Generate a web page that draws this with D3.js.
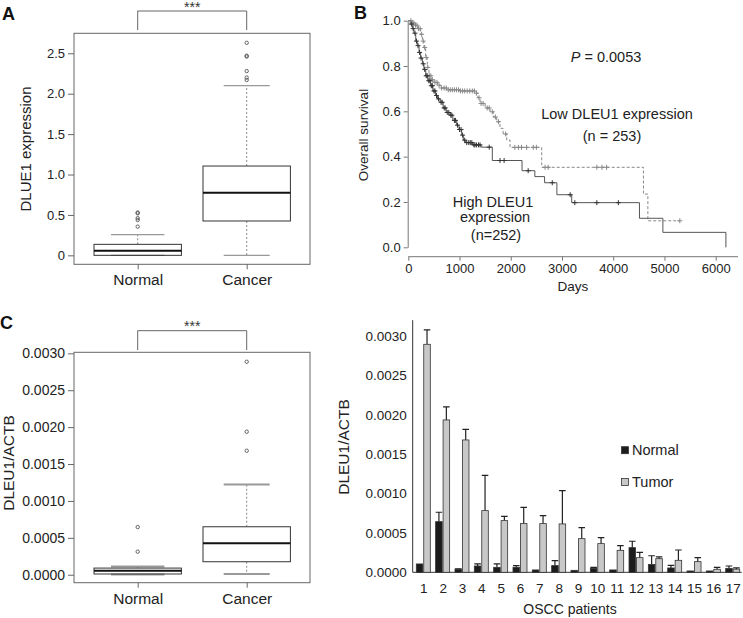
<!DOCTYPE html>
<html><head><meta charset="utf-8">
<script src="https://cdn.jsdelivr.net/npm/d3@7"></script>
<style>body{margin:0;background:#fff}svg{display:block;font-family:"Liberation Sans",Arial,sans-serif}</style>
</head><body><svg id="fig" width="743" height="618"></svg>
<script>
// ---------- Panel A data ----------
const boxCategories = ["Normal", "Cancer"];
const aLowerWhisker = [0, 0];
const aQ1 = [0, 0.425];
const aMedian = [0.057, 0.775];
const aQ3 = [0.136, 1.105];
const aUpperWhisker = [0.255, 2.10];
const aOutliers = [[0.355, 0.437, 0.46, 0.52, 0.53], [2.17, 2.2, 2.28, 2.46, 2.47, 2.63]];
const aTicks = [0, 0.5, 1.0, 1.5, 2.0, 2.5];
const aTickLabels = ["0", "0.5", "1.0", "1.5", "2.0", "2.5"];
// ---------- Panel C data ----------
const cLowerWhisker = [0.000002, 0.00001];
const cQ1 = [0.00001, 0.000176];
const cMedian = [0.000054, 0.000425];
const cQ3 = [0.00009, 0.00065];
const cUpperWhisker = [0.00011, 0.001224];
const cOutliers = [[0.000312, 0.000646], [0.00168, 0.001938, 0.002886]];
const cTicks = [0, 0.0005, 0.001, 0.0015, 0.002, 0.0025, 0.003];
// ---------- Panel B data (Kaplan-Meier) ----------
const kmHighTimes = [0, 40, 80, 110, 145, 175, 210, 240, 275, 305, 340, 380, 436, 480, 534, 570, 620, 680, 740, 814, 870, 944, 990, 1042, 1074, 1120, 1250, 1420, 1640, 2220, 2470, 2660, 2900, 3190, 4512, 4969, 6199];
const kmHighSurv  = [1.0, 0.985, 0.965, 0.945, 0.91, 0.89, 0.86, 0.835, 0.81, 0.785, 0.757, 0.735, 0.713, 0.69, 0.67, 0.655, 0.64, 0.615, 0.595, 0.583, 0.56, 0.539, 0.52, 0.495, 0.473, 0.462, 0.452, 0.442, 0.383, 0.338, 0.312, 0.285, 0.232, 0.197, 0.128, 0.066, 0];
const kmHighCensor = [60, 95, 130, 160, 190, 220, 250, 290, 320, 350, 370, 400, 420, 450, 470, 500, 520, 550, 590, 640, 660, 700, 720, 760, 790, 830, 850, 900, 920, 960, 1000, 1030, 1060, 1100, 1140, 1180, 1210, 1240, 1280, 1300, 1330, 1370, 1400, 1580, 1790, 1870, 2340, 2810, 3160, 3250, 3680, 4100];
const kmLowTimes = [0, 60, 120, 180, 241, 275, 306, 339, 371, 404, 450, 501, 570, 632, 750, 1000, 1300, 1360, 1400, 1500, 1595, 1660, 1725, 1790, 1850, 1921, 1986, 2604, 4590, 4676];
const kmLowSurv  = [1.0, 0.99, 0.98, 0.965, 0.94, 0.91, 0.882, 0.838, 0.794, 0.757, 0.74, 0.728, 0.715, 0.703, 0.695, 0.69, 0.68, 0.66, 0.635, 0.615, 0.598, 0.575, 0.554, 0.525, 0.5, 0.473, 0.441, 0.353, 0.235, 0.117];
const kmLowEnd = 5300;
const kmLowCensor = [50, 80, 110, 140, 170, 200, 230, 260, 290, 320, 350, 380, 410, 440, 470, 520, 560, 600, 650, 700, 740, 780, 820, 860, 900, 940, 980, 1020, 1060, 1100, 1150, 1200, 1250, 1290, 1330, 1380, 1420, 1460, 1540, 1580, 1640, 1700, 1760, 1900, 2080, 2150, 2210, 2310, 2440, 2500, 2670, 2730, 3680, 3780, 3870, 5300];
const kmXTicks = [0, 1000, 2000, 3000, 4000, 5000, 6000];
const kmYTicks = [0, 0.2, 0.4, 0.6, 0.8, 1.0];
// ---------- Panel D data ----------
const patients = ["1","2","3","4","5","6","7","8","9","10","11","12","13","14","15","16","17"];
const barSeries = ["Normal", "Tumor"];
const normalMean = [0.000106, 0.000643, 0.00004, 0.00008, 0.000063, 0.000063, 0.00003, 0.000085, 0.000025, 0.00005, 0.00003, 0.000313, 0.0001, 0.000055, 0.000017, 0.000017, 0.00005];
const normalErr  = [0, 0.000119, 0.000005, 0.000026, 0.000043, 0.000022, 0, 0.000063, 0, 0.000013, 0, 0.000081, 0.00011, 0.000034, 0, 0, 0.00003];
const tumorMean  = [0.002894, 0.001934, 0.00168, 0.000783, 0.000656, 0.000618, 0.000618, 0.000614, 0.000427, 0.000364, 0.000279, 0.000186, 0.000173, 0.000152, 0.000135, 0.000038, 0.00004];
const tumorErr   = [0.000182, 0.000166, 0.000135, 0.000447, 0.000054, 0.000207, 0.000101, 0.000423, 0.00014, 0.000076, 0.000059, 0.000068, 0.000022, 0.000131, 0.000051, 0.000025, 0.000015];
const dTicks = [0, 0.0005, 0.001, 0.0015, 0.002, 0.0025, 0.003];

const svg = d3.select("#fig");
const FRAME = "#666", GREY = "#8a8a8a";

// ---------- Box plot helper ----------
function boxPanel(g, cfg) {
  const x = d3.scalePoint().domain(boxCategories).range([137.7, 246.7]);
  const y = d3.scaleLinear().domain(cfg.domain).range([cfg.bottom, cfg.top]);
  g.append("rect").attr("x", 74).attr("y", cfg.top).attr("width", 236).attr("height", cfg.bottom - cfg.top)
    .attr("fill", "none").attr("stroke", FRAME).attr("stroke-width", 1);
  const yAx = g.append("g").attr("transform", "translate(74,0)")
    .call(d3.axisLeft(y).tickValues(cfg.ticks).tickFormat((d, i) => cfg.labels[i]).tickSize(6).tickPadding(3).tickSizeOuter(0));
  yAx.select(".domain").remove();
  yAx.selectAll("line").attr("stroke", FRAME);
  yAx.selectAll("text").attr("font-size", cfg.tickFont).attr("fill", "#222").style("font-family", "Liberation Sans, Arial");
  const xAx = g.append("g").attr("transform", `translate(0,${cfg.bottom})`)
    .call(d3.axisBottom(x).tickSize(5).tickPadding(5));
  xAx.select(".domain").remove();
  xAx.selectAll("line").attr("stroke", FRAME);
  xAx.selectAll("text").attr("font-size", 15.5).attr("fill", "#222").style("font-family", "Liberation Sans, Arial");
  const hw = 43.7, cw = cfg.capHalf;
  boxCategories.forEach((c, i) => {
    const cx = x(c);
    // whiskers
    g.append("line").attr("x1", cx).attr("x2", cx).attr("y1", y(cfg.q3[i])).attr("y2", y(cfg.uw[i]))
      .attr("stroke", GREY).attr("stroke-dasharray", "2,2");
    g.append("line").attr("x1", cx).attr("x2", cx).attr("y1", y(cfg.q1[i])).attr("y2", y(cfg.lw[i]))
      .attr("stroke", GREY).attr("stroke-dasharray", "2,2");
    [cfg.uw[i], cfg.lw[i]].forEach(v => g.append("line").attr("x1", cx - cw[i]).attr("x2", cx + cw[i])
      .attr("y1", y(v)).attr("y2", y(v)).attr("stroke", "#999").attr("stroke-width", cfg.capWidth));
    g.append("rect").attr("x", cx - hw).attr("width", 2 * hw).attr("y", y(cfg.q3[i]))
      .attr("height", y(cfg.q1[i]) - y(cfg.q3[i])).attr("fill", "none").attr("stroke", "#333").attr("stroke-width", 1);
    g.append("line").attr("x1", cx - hw).attr("x2", cx + hw).attr("y1", y(cfg.med[i])).attr("y2", y(cfg.med[i]))
      .attr("stroke", "#111").attr("stroke-width", 2);
    cfg.out[i].forEach(v => g.append("circle").attr("cx", cx).attr("cy", y(v)).attr("r", 1.7)
      .attr("fill", "none").attr("stroke", "#555").attr("stroke-width", 0.9));
  });
  // significance bracket
  g.append("path").attr("d", `M${x("Normal")},${cfg.brBottom}V${cfg.brTop}H${x("Cancer")}V${cfg.brBottom}`)
    .attr("fill", "none").attr("stroke", FRAME);
  g.append("text").attr("x", (x("Normal") + x("Cancer")) / 2).attr("y", cfg.brTop + 0.5).attr("text-anchor", "middle")
    .attr("font-size", 14).attr("fill", "#333").text("***");
  g.append("text").attr("transform", `translate(${cfg.titleX},${cfg.titleY}) rotate(-90)`).attr("text-anchor", "middle")
    .attr("font-size", cfg.titleFont).attr("fill", "#222").text(cfg.title);
  g.append("text").attr("x", cfg.labelX).attr("y", cfg.labelY).attr("font-size", 18).attr("font-weight", "bold")
    .attr("fill", "#111").text(cfg.label);
}

boxPanel(svg.append("g"), {
  domain: [-0.111, 2.7475], top: 33.3, bottom: 264.3, ticks: aTicks, labels: aTickLabels, tickFont: 13,
  lw: aLowerWhisker, q1: aQ1, med: aMedian, q3: aQ3, uw: aUpperWhisker, out: aOutliers,
  capHalf: [26.7, 23], capWidth: 1.2, brTop: 11, brBottom: 30,
  title: "DLUE1 expression", titleX: 31, titleY: 149, titleFont: 15, label: "A", labelX: 2, labelY: 20
});
boxPanel(svg.append("g"), {
  domain: [-0.000108, 0.003014], top: 352.3, bottom: 582.7, ticks: cTicks, labels: cTicks.map(d => d.toFixed(4)), tickFont: 14,
  lw: cLowerWhisker, q1: cQ1, med: cMedian, q3: cQ3, uw: cUpperWhisker, out: cOutliers,
  capHalf: [26.7, 23], capWidth: 2, brTop: 330.7, brBottom: 350,
  title: "DLEU1/ACTB", titleX: 14, titleY: 463, titleFont: 15.5, label: "C", labelX: 0, labelY: 329
});

// ---------- Panel B ----------
{
  const g = svg.append("g");
  const x = d3.scaleLinear().domain([0, 6000]).range([408.3, 715.7]);
  const y = d3.scaleLinear().domain([0, 1]).range([247.3, 20.7]);
  // axes
  const yAx = g.append("g").attr("transform", "translate(407.7,0)")
    .call(d3.axisLeft(y).tickValues(kmYTicks).tickFormat(d3.format(".1f")).tickSize(4).tickPadding(3).tickSizeOuter(0));
  yAx.select(".domain").attr("stroke", "#777");
  yAx.selectAll("line").attr("stroke", "#777");
  yAx.selectAll("text").attr("font-size", 13).attr("fill", "#222");
  const xAx = g.append("g").attr("transform", "translate(0,256.7)")
    .call(d3.axisBottom(x).tickValues(kmXTicks).tickFormat(d3.format("d")).tickSize(4).tickPadding(3).tickSizeOuter(0));
  xAx.select(".domain").attr("d", `M${x(0)},0H738`).attr("stroke", "#777");
  xAx.selectAll("line").attr("stroke", "#777");
  xAx.selectAll("text").attr("font-size", 13).attr("fill", "#222");
  g.append("text").attr("x", 573).attr("y", 291).attr("text-anchor", "middle").attr("font-size", 13.5).attr("fill", "#222").text("Days");
  g.append("text").attr("transform", "translate(368,135) rotate(-90)").attr("text-anchor", "middle")
    .attr("font-size", 13.5).attr("fill", "#222").text("Overall survival");
  g.append("text").attr("x", 354).attr("y", 19).attr("font-size", 18).attr("font-weight", "bold").attr("fill", "#111").text("B");
  const line = d3.line().x(d => x(d[0])).y(d => y(d[1])).curve(d3.curveStepAfter);
  const high = kmHighTimes.map((t, i) => [t, kmHighSurv[i]]);
  const low = kmLowTimes.map((t, i) => [t, kmLowSurv[i]]).concat([[kmLowEnd, kmLowSurv[kmLowSurv.length - 1]]]);
  const survAt = (times, surv, t) => { let s = surv[0]; times.forEach((tt, i) => { if (tt <= t) s = surv[i]; }); return s; };
  g.append("path").attr("d", line(low)).attr("fill", "none").attr("stroke", "#888").attr("stroke-width", 1).attr("stroke-dasharray", "3,2");
  g.append("path").attr("d", line(high)).attr("fill", "none").attr("stroke", "#555").attr("stroke-width", 1);
  const mark = (times, surv, cens, col) => cens.forEach(t => {
    const px = x(t), py = y(survAt(times, surv, t));
    g.append("path").attr("d", `M${px - 2.5},${py}H${px + 2.5}M${px},${py - 2.5}V${py + 2.5}`)
      .attr("stroke", col).attr("stroke-width", 1);
  });
  mark(kmLowTimes, kmLowSurv, kmLowCensor, "#888");
  mark(kmHighTimes, kmHighSurv, kmHighCensor, "#333");
  const t = g.append("text").attr("x", 606).attr("y", 62).attr("text-anchor", "middle").attr("font-size", 14.5).attr("fill", "#222");
  t.append("tspan").attr("font-style", "italic").text("P");
  t.append("tspan").text(" = 0.0053");
  const ann = [["Low DLEU1 expression", 617, 118.5], ["(n = 253)", 612, 140.5], ["High DLEU1", 493, 206.5], ["expression", 495, 221.5], ["(n=252)", 496, 240]];
  ann.forEach(a => g.append("text").attr("x", a[1]).attr("y", a[2]).attr("text-anchor", "middle").attr("font-size", 14.5).attr("fill", "#222").text(a[0]));
}

// ---------- Panel D ----------
{
  const g = svg.append("g");
  const x = d3.scalePoint().domain(patients).range([423.3, 732.7]);
  const xs = d3.scaleBand().domain(barSeries).range([-7, 7]).paddingInner(0.12);
  const y = d3.scaleLinear().domain([0, 0.0032]).range([572.3, 320.2]);
  const yAx = g.append("g").attr("transform", "translate(412.7,0)")
    .call(d3.axisLeft(y).tickValues(dTicks).tickFormat(d3.format(".4f")).tickSize(0).tickPadding(6));
  yAx.select(".domain").attr("d", `M0,${y(0)}V${y.range()[1]}`).attr("stroke", "#333");
  yAx.selectAll("text").attr("font-size", 13.5).attr("fill", "#222");
  const xAx = g.append("g").attr("transform", `translate(0,${y(0)})`)
    .call(d3.axisBottom(x).tickSize(0).tickPadding(11));
  xAx.select(".domain").attr("d", "M412.7,0H741.7").attr("stroke", "#333");
  xAx.selectAll("text").attr("font-size", 13.5).attr("fill", "#222");
  const mean = { Normal: normalMean, Tumor: tumorMean };
  const err = { Normal: normalErr, Tumor: tumorErr };
  const fill = { Normal: "#1c1c1c", Tumor: "#c8c8c8" };
  barSeries.forEach(s => patients.forEach((p, i) => {
    const bx = x(p) + xs(s), bw = xs.bandwidth(), v = mean[s][i], e = err[s][i];
    if (e > 0) {
      const cx = bx + bw / 2;
      g.append("path").attr("d", `M${cx},${y(v)}V${y(v + e)}M${bx},${y(v + e)}H${bx + bw}`)
        .attr("stroke", "#222").attr("stroke-width", 1.2).attr("fill", "none");
    }
    g.append("rect").attr("x", bx).attr("width", bw).attr("y", y(v)).attr("height", y(0) - y(v))
      .attr("fill", fill[s]).attr("stroke", "#333").attr("stroke-width", 0.8);
  }));
  const leg = [["Normal", 446.7], ["Tumor", 478.5]];
  leg.forEach((l, i) => {
    g.append("rect").attr("x", 621.5).attr("y", l[1]).attr("width", 7).attr("height", 7)
      .attr("fill", fill[l[0]]).attr("stroke", "#333").attr("stroke-width", 0.8);
    g.append("text").attr("x", 632).attr("y", l[1] + 8.5).attr("font-size", 14.5).attr("fill", "#222").text(l[0]);
  });
  g.append("text").attr("transform", "translate(349,447) rotate(-90)").attr("text-anchor", "middle")
    .attr("font-size", 15.5).attr("fill", "#222").text("DLEU1/ACTB");
  g.append("text").attr("x", 570).attr("y", 614).attr("text-anchor", "middle").attr("font-size", 14).attr("fill", "#222").text("OSCC patients");
}
</script></body></html>
